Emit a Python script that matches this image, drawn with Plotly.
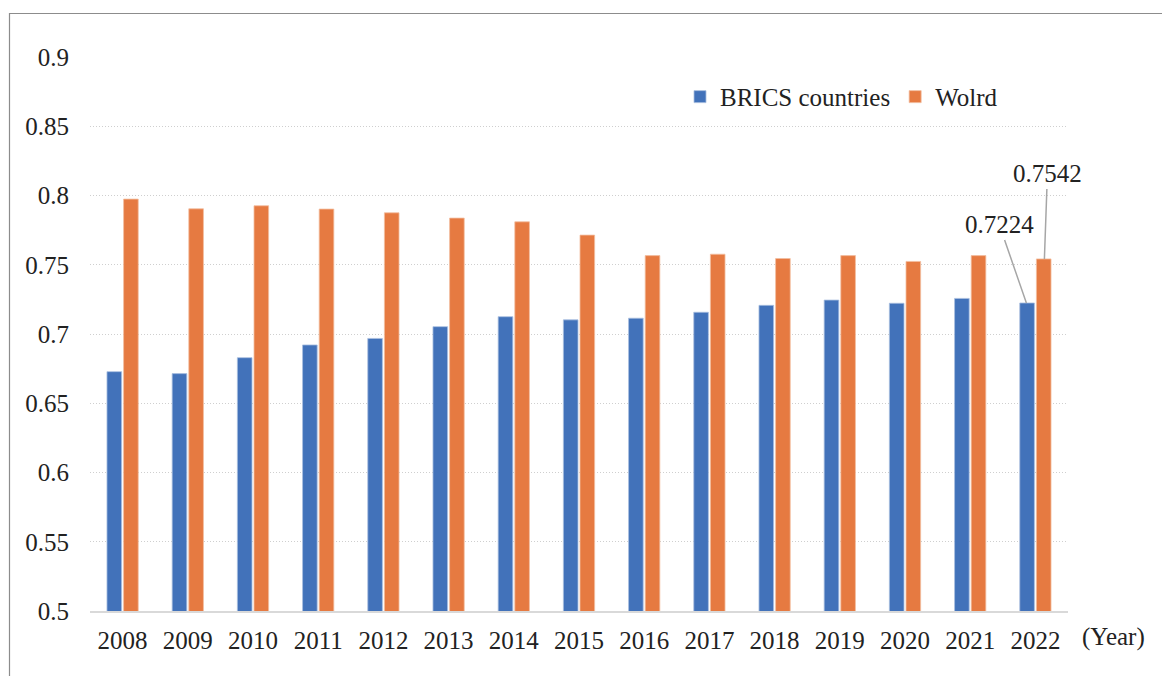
import plotly.graph_objects as go

years = ["2008", "2009", "2010", "2011", "2012", "2013", "2014", "2015",
         "2016", "2017", "2018", "2019", "2020", "2021", "2022"]
brics = [0.6728, 0.6714, 0.6829, 0.6921, 0.6968, 0.7053, 0.7125, 0.7102,
         0.7114, 0.7157, 0.7207, 0.7245, 0.7222, 0.7257, 0.7224]
world = [0.7974, 0.7904, 0.7926, 0.7902, 0.7875, 0.7837, 0.7810, 0.7714,
         0.7566, 0.7576, 0.7545, 0.7566, 0.7524, 0.7566, 0.7542]
y_ticks = [0.5, 0.55, 0.6, 0.65, 0.7, 0.75, 0.8, 0.85, 0.9]
y_tick_text = ["0.5", "0.55", "0.6", "0.65", "0.7", "0.75", "0.8", "0.85", "0.9"]

FONT = "Liberation Serif, Times New Roman, serif"
BLUE = "#4272BA"
ORANGE = "#E67A41"
FS = 25

fig = go.Figure()
fig.add_trace(go.Bar(x=years, y=brics, name="BRICS countries",
                     marker=dict(color=BLUE, line=dict(color="#A9BFE0", width=0.8))))
fig.add_trace(go.Bar(x=years, y=world, name="Wolrd",
                     marker=dict(color=ORANGE, line=dict(color="#F3BE9F", width=0.8))))

fig.update_layout(
    width=1162, height=676,
    margin=dict(l=90, r=94, t=57, b=65),
    paper_bgcolor="white", plot_bgcolor="white",
    font=dict(family=FONT, size=FS, color="#222222"),
    barmode="group", bargap=0.49, bargroupgap=0.12,
    showlegend=True,
    legend=dict(orientation="h", x=(680 - 90) / 978, y=0.928, xanchor="left", yanchor="middle",
                font=dict(family=FONT, size=FS, color="#222222"),
                bgcolor="rgba(0,0,0,0)", itemwidth=30, tracegroupgap=0),
    xaxis=dict(type="category", range=[-0.5, len(years) - 0.5], autorange=False,
               showgrid=False, showline=True, linecolor="#D9D9D9",
               linewidth=1.5, ticks="", ticklabelstandoff=6, zeroline=False),
    yaxis=dict(range=[0.5, 0.9], autorange=False, tickvals=y_ticks, ticktext=y_tick_text,
               showgrid=True, gridcolor="#CFCFCF", griddash="1px,2px", gridwidth=1.2,
               showline=False, zeroline=False, ticks="", ticklabelstandoff=20),
)

fig.add_annotation(x=14, y=world[14], xref="x", yref="y", xshift=9,
                   text="0.7542", showarrow=True, arrowhead=0, arrowcolor="#A6A6A6",
                   arrowwidth=1.5, axref="pixel", ayref="pixel", ax=3, ay=-85,
                   standoff=0, font=dict(family=FONT, size=FS, color="#222222"))
fig.add_annotation(x=14, y=brics[14], xref="x", yref="y", xshift=-9,
                   text="0.7224", showarrow=True, arrowhead=0, arrowcolor="#A6A6A6",
                   arrowwidth=1.5, axref="pixel", ayref="pixel", ax=-27, ay=-78,
                   standoff=0, font=dict(family=FONT, size=FS, color="#222222"))
fig.add_annotation(xref="paper", yref="paper", text="(Year)",
                   x=(1113 - 90) / 978, y=-(637 - 611) / 554,
                   xanchor="center", yanchor="middle",
                   showarrow=False, font=dict(family=FONT, size=FS, color="#222222"))

# chart frame
fig.add_shape(type="rect", xref="paper", yref="paper",
              x0=-(90 - 9.5) / 978, x1=(1170 - 90) / 978,
              y0=-(690 - 611) / 554, y1=(611 - 13.5) / 554,
              line=dict(color="#8C8C8C", width=1.2), fillcolor="rgba(0,0,0,0)",
              layer="below")

fig.write_html("out.html", config={"displayModeBar": False},
               post_script="document.body.style.margin='0';")
